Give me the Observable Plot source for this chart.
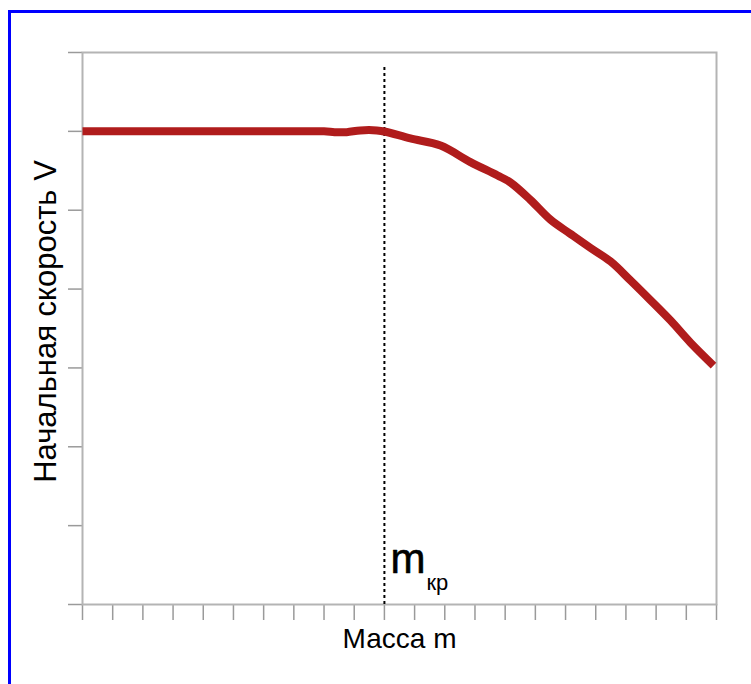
<!DOCTYPE html>
<html>
<head>
<meta charset="utf-8">
<script src="https://cdn.jsdelivr.net/npm/d3@7"></script>
<script src="https://cdn.jsdelivr.net/npm/@observablehq/plot@0.6"></script>
<style>
  html, body { margin: 0; padding: 0; background: #fff; }
  #wrap { position: relative; width: 751px; height: 684px; overflow: hidden; }
  #wrap svg { position: absolute; left: 0; top: 0; }
  #border { position: absolute; left: 8px; top: 10px; width: 760px; height: 700px;
            border-top: 3px solid #0000ff; border-left: 3px solid #0000ff; pointer-events: none; }
</style>
</head>
<body>
<div id="wrap"><div id="border"></div></div>
<script>
// Data (in axis tick units)
const mass  = [0, 2, 4, 6, 8, 8.35, 8.75, 9.2, 9.75, 10.04, 10.86, 11.86, 12.85, 13.75, 14.18, 14.84, 15.50, 16.16, 16.83, 17.49, 18.15, 18.81, 19.48, 20.14, 20.90];
const speed = [6.0, 6.0, 6.0, 6.0, 6.0, 5.99, 5.99, 6.012, 6.012, 5.995, 5.91, 5.82, 5.61, 5.44, 5.35, 5.13, 4.88, 4.70, 4.52, 4.35, 4.11, 3.86, 3.60, 3.32, 3.03];
const critMass = [10];
const critLineTop = [6.84];
const xTicks = [0,1,2,3,4,5,6,7,8,9,10,11,12,13,14,15,16,17,18,19,20,21];
const yTicks = [0,1,2,3,4,5,6,7];
const xLabel = ["Масса m"];
const yLabel = ["Начальная скорость V"];
const critMain = ["m"];
const critSub = ["кр"];

const curve = mass.map((m, i) => ({m, v: speed[i]}));
const font = "'Liberation Sans', Arial, sans-serif";

const chart = Plot.plot({
  width: 751,
  height: 684,
  marginLeft: 82,
  marginRight: 35,
  marginTop: 52,
  marginBottom: 80,
  style: {fontFamily: font, background: "transparent", color: "#000"},
  x: {domain: [0, 21]},
  y: {domain: [0, 7]},
  marks: [
    Plot.axisX({ticks: xTicks, tickSize: 16, tickFormat: () => "", label: null, stroke: "#9a9a9a", strokeWidth: 1.5}),
    Plot.axisY({ticks: yTicks, tickSize: 14, tickFormat: () => "", label: null, stroke: "#9a9a9a", strokeWidth: 1.5}),
    Plot.frame({stroke: "#b4b4b4", strokeWidth: 2}),
    Plot.ruleX(critMass, {x: d => d, y1: 0, y2: critLineTop[0], stroke: "#000", strokeWidth: 2, strokeDasharray: "3,3"}),
    Plot.line(curve, {x: "m", y: "v", stroke: "#b01c1c", strokeWidth: 8, curve: "catmull-rom", strokeLinecap: "butt"}),
    Plot.text(critMain, {x: () => critMass[0], y: () => 0, text: d => d, fontSize: 42, textAnchor: "start", lineAnchor: "bottom", dx: 6, dy: -32, fill: "#000", stroke: "#000", strokeWidth: 0.6}),
    Plot.text(critSub, {x: () => critMass[0], y: () => 0, text: d => d, fontSize: 22, textAnchor: "start", lineAnchor: "bottom", dx: 42, dy: -15, fill: "#000"}),
    Plot.text(xLabel, {frameAnchor: "bottom", text: d => d, fontSize: 28, textAnchor: "middle", lineAnchor: "bottom", dy: 43, fill: "#000"}),
    Plot.text(yLabel, {frameAnchor: "left", text: d => d, fontSize: 31, rotate: -90, textAnchor: "middle", lineAnchor: "middle", dx: -36, dy: -7, fill: "#000"})
  ]
});
document.getElementById("wrap").insertBefore(chart, document.getElementById("border"));
</script>
</body>
</html>
